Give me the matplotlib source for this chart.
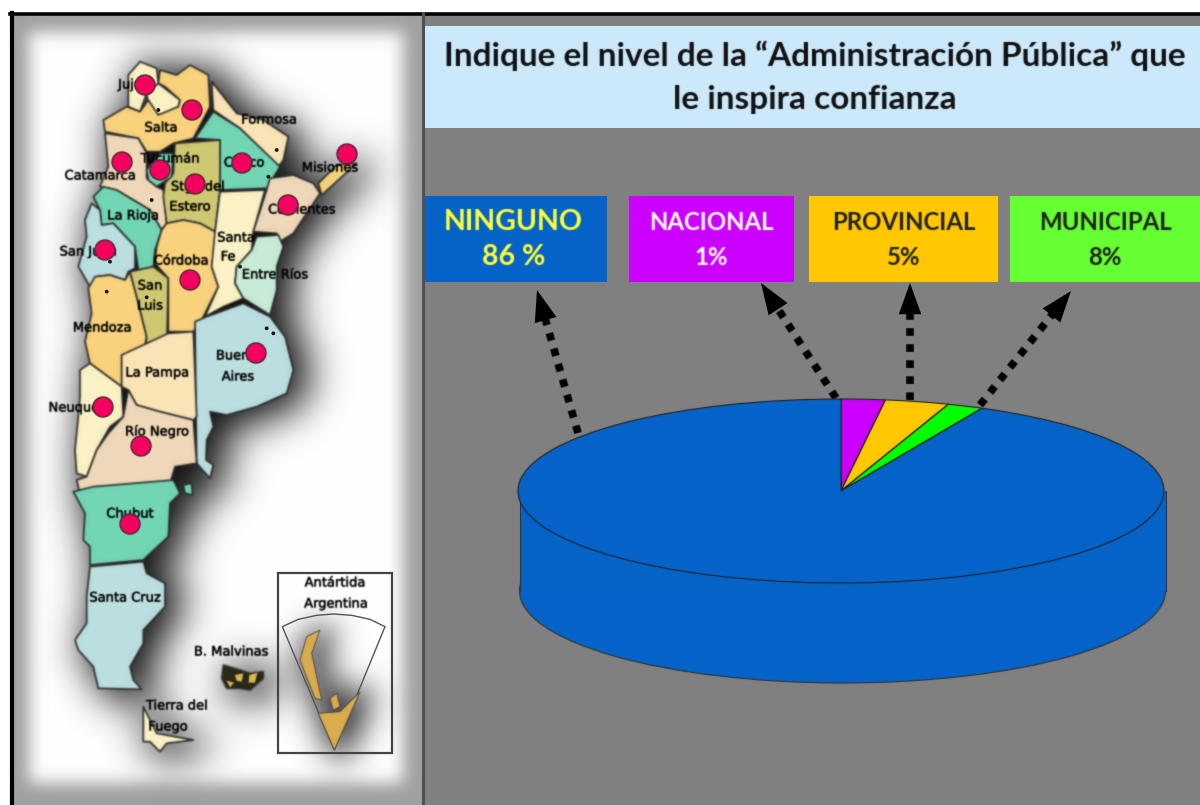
import numpy as np
import matplotlib
matplotlib.use("Agg")
import matplotlib.pyplot as plt
import matplotlib.patheffects as pe
from matplotlib.collections import PolyCollection
from matplotlib.patches import Rectangle, Ellipse, Polygon, Circle, FancyArrowPatch

W, H = 1200, 805

# datos del grafico
categorias = ["NINGUNO", "NACIONAL", "PROVINCIAL", "MUNICIPAL"]
etiquetas_pct = ["86 %", "1%", "5%", "8%"]
colores = ["#0563C8", "#CC00FF", "#FFC800", "#66FF33"]
color_texto = ["#FFFF33", "#FFFFFF", "#222222", "#222222"]
# sectores como estan dibujados en la torta
torta_valores = [2.2, 3.2, 1.8, 92.8]
torta_colores = ["#CC00FF", "#FFC800", "#00FF00", "#0563C8"]

# cajas de etiquetas y flechas (x0, x1)
cajas_x = [(424, 607), (629, 794), (809, 998), (1010, 1200)]
flechas = [((578, 433), (537, 290)), ((836, 398), (761, 283)),
           ((910, 400), (910, 283)), ((980, 405), (1071, 291))]

# mapa: contornos en coordenadas del recorte 1 (z1) y del recorte 2 (z2)
P_CREMA = "#FBF2C4"
P_DURAZNO = "#EFD8BA"
P_NARANJA = "#F8D27C"
P_TEAL = "#72D6B4"
P_OLIVA = "#CFC873"
P_CELESTE = "#BBDEE0"
P_ARENA = "#FBE4B6"
P_VERDE = "#C8EBD6"

provincias_z1 = [
    (P_CREMA, [(235, 75), (270, 35), (320, 55), (325, 100), (290, 130), (270, 185), (235, 170)]),
    (P_CREMA, [(290, 130), (325, 100), (390, 150), (385, 170), (330, 200), (295, 160)]),
    (P_NARANJA, [(330, 60), (380, 75), (420, 45), (475, 75), (480, 170), (430, 265), (370, 280), (330, 305),
                 (290, 305), (265, 265), (165, 245), (160, 210), (230, 170), (270, 185), (295, 150), (325, 195),
                 (385, 170), (390, 150), (345, 110), (325, 100)]),
    (P_ARENA, [(485, 95), (560, 190), (640, 210), (715, 260), (700, 330), (685, 350), (570, 235), (490, 180)]),
    (P_TEAL, [(490, 185), (570, 235), (690, 350), (650, 415), (510, 420), (510, 270), (435, 265)]),
    (P_DURAZNO, [(165, 250), (265, 265), (290, 310), (290, 385), (320, 410), (340, 420), (350, 520), (335, 540),
                 (300, 480), (200, 420), (150, 410), (175, 350)]),
    (P_OLIVA, [(375, 280), (510, 270), (510, 420), (495, 545), (450, 520), (400, 510), (350, 520), (340, 440),
               (345, 400), (370, 370)]),
    (P_TEAL, [(290, 360), (330, 310), (370, 310), (365, 380), (320, 410), (295, 390)]),
    (P_TEAL, [(130, 440), (160, 410), (200, 420), (300, 480), (335, 540), (315, 600), (310, 650), (265, 660),
              (255, 590), (190, 520), (155, 525), (150, 480)]),
    (P_CELESTE, [(105, 510), (125, 460), (150, 480), (155, 525), (190, 520), (255, 590), (255, 655), (235, 665),
                 (225, 690), (180, 675), (140, 680), (120, 710), (85, 650), (110, 560)]),
    (P_NARANJA, [(135, 680), (180, 675), (225, 690), (240, 665), (260, 740), (290, 860), (280, 910), (215, 915),
                 (215, 1010), (120, 940), (105, 875), (125, 790), (115, 715)]),
    (P_OLIVA, [(240, 665), (310, 650), (355, 685), (350, 905), (285, 910), (290, 860), (260, 740)]),
    (P_NARANJA, [(335, 540), (350, 520), (400, 510), (450, 520), (495, 545), (495, 590), (485, 650), (505, 710),
                 (460, 800), (430, 845), (355, 845), (355, 685), (315, 640), (320, 590)]),
    (P_CREMA, [(510, 425), (645, 420), (610, 545), (605, 600), (560, 650), (555, 700), (580, 745), (520, 770),
               (465, 800), (505, 710), (485, 650), (495, 545)]),
    (P_DURAZNO, [(650, 420), (660, 385), (730, 375), (790, 400), (810, 430), (730, 550), (690, 575), (680, 550),
                 (610, 545)]),
    (P_NARANJA, [(805, 400), (860, 345), (920, 340), (860, 395), (815, 435)]),
    (P_VERDE, [(620, 560), (685, 555), (700, 590), (680, 650), (680, 720), (660, 795), (580, 745), (555, 700),
               (560, 650), (605, 600)]),
    (P_CELESTE, [(435, 815), (470, 800), (580, 760), (660, 800), (705, 860), (715, 900), (730, 960), (710, 1030),
                 (620, 1070), (530, 1095), (480, 1085), (490, 1130), (470, 1170), (468, 1230), (490, 1245),
                 (480, 1285), (440, 1240)]),
    (P_ARENA, [(355, 850), (430, 845), (440, 1100), (430, 1110), (330, 1085), (260, 1065), (235, 1020), (215, 1010),
               (215, 915)]),
    (P_CREMA, [(90, 960), (120, 940), (215, 1010), (220, 1100), (180, 1130), (140, 1200), (110, 1280), (80, 1270),
               (75, 1200), (85, 1100), (90, 1040)]),
    (P_DURAZNO, [(235, 1020), (260, 1065), (330, 1085), (430, 1110), (440, 1240), (375, 1250), (360, 1300),
                 (210, 1325), (90, 1330), (80, 1290), (110, 1280), (140, 1200), (175, 1150), (220, 1100)]),
]
provincias_z2 = [
    (P_TEAL, [(70, 155), (130, 140), (370, 120), (390, 160), (360, 190), (355, 290), (290, 350), (280, 360),
              (120, 375), (120, 320), (100, 300), (105, 220)]),
    (P_CELESTE, [(120, 380), (280, 365), (290, 400), (345, 430), (345, 500), (280, 570), (280, 610), (240, 680),
                 (250, 720), (275, 748), (145, 745), (130, 680), (85, 630), (75, 600), (110, 550), (110, 470)]),
    (P_CREMA, [(280, 800), (320, 880), (430, 900), (350, 910), (330, 935), (300, 905), (280, 905)]),
    (P_TEAL, [(400, 135), (425, 130), (428, 165), (405, 160)]),
]
malvinas_z2 = [
    [(520, 675), (570, 690), (600, 700), (640, 695), (640, 715), (600, 750), (570, 745), (530, 745), (515, 715)],
]
malvinas_claro_z2 = [
    [(555, 705), (580, 700), (575, 725), (560, 722)],
    [(598, 705), (622, 698), (615, 728), (596, 728)],
    [(530, 722), (552, 728), (540, 742)],
]
antartida_z2 = [
    [(805, 820), (870, 815), (930, 755), (853, 930)],
    [(770, 590), (810, 570), (785, 640), (815, 780), (795, 775), (750, 660)],
    [(840, 775), (860, 760), (870, 800), (850, 810)],
]
sector_z2 = [(697, 560), (745, 538), (800, 526), (850, 522), (905, 526), (960, 538), (1005, 560), (853, 930)]

puntos_rojos = [(145, 85), (192, 110), (122, 162), (160, 170), (195, 184), (242, 163), (347, 154), (288, 205),
                (105, 250), (190, 280), (256, 353), (103, 407), (141, 446), (130, 524)]
capitales_z1 = [(325, 180), (305, 450), (180, 635), (170, 725), (290, 742), (680, 300), (655, 380), (570, 650),
                (650, 835), (670, 850)]
nombres = [("Jujuy", 134, 85), ("Salta", 161, 128), ("Formosa", 269, 120), ("Tucumán", 170, 159),
           ("Catamarca", 100, 176), ("Chaco", 244, 163), ("Misiones", 330, 168), ("Stgo del", 198, 187),
           ("Estero", 190, 207), ("Corrientes", 302, 210), ("La Rioja", 133, 216), ("Santa", 236, 238),
           ("Fe", 228, 257), ("San Juan", 88, 252), ("Córdoba", 181, 261), ("Entre Ríos", 275, 275),
           ("San", 150, 286), ("Luis", 150, 306), ("Mendoza", 102, 328), ("La Pampa", 157, 373),
           ("Buenos", 240, 356), ("Aires", 238, 377), ("Neuquén", 78, 408), ("Río Negro", 157, 432),
           ("Chubut", 130, 514), ("Santa Cruz", 125, 598), ("B. Malvinas", 231, 652), ("Tierra del", 177, 706),
           ("Fuego", 168, 727), ("Antártida", 335, 583), ("Argentina", 336, 604)]


def z1(pts):
    return [(50 + x / 3, 50 + y / 3) for x, y in pts]


def z2(pts):
    return [(50 + x / 3, 440 + y / 3) for x, y in pts]


def blur(sigma):
    # filtro gaussiano para imitar la imagen escalada
    r = int(3 * sigma) + 1
    k = np.exp(-0.5 * (np.arange(-r, r + 1) / sigma) ** 2)
    k /= k.sum()

    def filtro(im, dpi):
        p = np.pad(im, ((r, r), (r, r), (0, 0)))
        a = p[..., 3:]
        p = np.concatenate([p[..., :3] * a, a], axis=2)
        for eje in (0, 1):
            p = np.apply_along_axis(np.convolve, eje, p, k, mode="same")
        a = np.clip(p[..., 3:], 1e-4, 1)
        out = np.concatenate([np.clip(p[..., :3] / a, 0, 1), p[..., 3:]], axis=2)
        return out, -r, -r
    return filtro


fig = plt.figure(figsize=(W / 100, H / 100), dpi=100, facecolor="white")
ax = fig.add_axes([0, 0, 1, 1])
ax.set_xlim(0, W)
ax.set_ylim(H, 0)
ax.axis("off")

# panel del mapa
ax.add_patch(Rectangle((10, 13), 412, H - 13, fc="#A0A0A0", ec="none", zorder=1))
blanco = Rectangle((29, 32), 374, H - 32 - 22, fc="white", ec="none", zorder=2)
blanco.set_agg_filter(blur(8))
ax.add_patch(blanco)

# panel derecho
ax.add_patch(Rectangle((424, 14), W - 424, H - 14, fc="#808080", ec="none", zorder=1))
ax.add_patch(Rectangle((425, 26), W - 425, 102, fc="#CCE9FB", ec="none", zorder=2))
ax.plot([10, W], [14, 14], color="black", lw=2.6, zorder=5)
ax.plot([12, 12], [13, H], color="black", lw=3, zorder=5)
ax.plot([422.5, 422.5], [13, H], color="#505050", lw=2.2, zorder=5)

# sombra del mapa
formas = [z1(p) for _, p in provincias_z1] + [z2(p) for _, p in provincias_z2] + [z2(p) for p in malvinas_z2]
sombra = PolyCollection([[(x + 11, y + 5) for x, y in f] for f in formas], facecolors="#111111", edgecolors="#111111",
                        linewidths=10, zorder=3)
sombra.set_agg_filter(blur(14))
ax.add_collection(sombra)

# provincias
mapa = PolyCollection([z1(p) for _, p in provincias_z1] + [z2(p) for _, p in provincias_z2],
                      facecolors=[c for c, _ in provincias_z1] + [c for c, _ in provincias_z2],
                      edgecolors="#2A2A2A", linewidths=1.2, zorder=4)
mapa.set_agg_filter(blur(0.6))
ax.add_collection(mapa)

for f in malvinas_z2:
    m = Polygon(z2(f), fc="#2A2A1A", ec="#222222", lw=1, zorder=4)
    m.set_agg_filter(blur(1))
    ax.add_patch(m)
for f in malvinas_claro_z2:
    m = Polygon(z2(f), fc="#D9B850", ec="none", zorder=4.5)
    m.set_agg_filter(blur(0.7))
    ax.add_patch(m)

# recuadro antartida
sombra_a = PolyCollection([[(x + 6, y + 3) for x, y in z2(f)] for f in antartida_z2], facecolors="#222222",
                          edgecolors="#222222", linewidths=14, alpha=0.8, zorder=3)
sombra_a.set_agg_filter(blur(11))
ax.add_collection(sombra_a)
caja = Rectangle((50 + 685 / 3, 440 + 400 / 3), 340 / 3, 538 / 3, fc="none", ec="#444444", lw=1.6, zorder=4)
ax.add_patch(caja)
sect = Polygon(z2(sector_z2), closed=True, fc="none", ec="#555555", lw=1, zorder=4)
ax.add_patch(sect)
for f in antartida_z2:
    a = Polygon(z2(f), fc="#D9AC50", ec="#444444", lw=0.6, zorder=4)
    a.set_agg_filter(blur(0.6))
    ax.add_patch(a)

# capitales, nombres y puntos rojos
for x, y in z1(capitales_z1):
    ax.add_patch(Circle((x, y), 1.9, fc="#111111", ec="none", zorder=5))
for nombre, x, y in nombres:
    t = ax.text(x, y, nombre, fontsize=9.4, family="DejaVu Sans", color="black", ha="center", va="center", zorder=6,
                path_effects=[pe.withStroke(linewidth=0.3, foreground="black")])
    t.set_agg_filter(blur(0.7))
for x, y in puntos_rojos:
    c = Circle((x, y), 10, fc="#F5005F", ec="#4A2A30", lw=1, zorder=7)
    c.set_agg_filter(blur(0.5))
    ax.add_patch(c)

# titulo
for linea, y in (("Indique el nivel de la “Administración Pública” que", 56),
                 ("le inspira confianza", 100)):
    t = ax.text(815, y, linea, fontsize=24, family="Lato", fontweight="bold", color="#111111",
                ha="center", va="center", zorder=6)
    t.set_agg_filter(blur(0.6))

# cajas
for (x0, x1), cat, pct, col, ct in zip(cajas_x, categorias, etiquetas_pct, colores, color_texto):
    ax.add_patch(Rectangle((x0, 195.5), x1 - x0, 86, fc=col, ec="none", zorder=3))
    tam = 20.5 if cat == "NINGUNO" else 17.3
    cx_t = (x0 + x1) / 2 - (2 if cat == "NINGUNO" else 0)
    t1 = ax.text(cx_t, 222, cat, fontsize=tam, family="Lato", fontweight="bold", color=ct, ha="center", va="center", zorder=6)
    t2 = ax.text(cx_t, 257, pct, fontsize=tam, family="Lato", fontweight="bold", color=ct, ha="center", va="center", zorder=6)
    t1.set_agg_filter(blur(0.6))
    t2.set_agg_filter(blur(0.6))

# flechas punteadas
for (x0, y0), (x1, y1) in flechas:
    largo = np.hypot(x1 - x0, y1 - y0)
    ux, uy = (x1 - x0) / largo, (y1 - y0) / largo
    lin, = ax.plot([x0, x1 - ux * 20], [y0, y1 - uy * 20], color="black", lw=5.5, ls=(0, (1, 1.1)), zorder=6,
                   dash_capstyle="butt")
    lin.set_agg_filter(blur(0.5))
    ax.add_patch(FancyArrowPatch((x1 - ux * 30, y1 - uy * 30), (x1, y1),
                                 arrowstyle="-|>,head_length=0.75,head_width=0.27", mutation_scale=30,
                                 color="black", lw=0, shrinkA=0, shrinkB=0, zorder=6))

# torta 3D: costado y tapa
cx, cy, rx, ry, alto = 841, 491, 323, 92, 100
lado = Ellipse((cx + 1.5, cy + alto), 2 * rx, 2 * ry, fc="#0563C8", ec="#333333", lw=0.8, zorder=3)
lado.set_agg_filter(blur(0.5))
ax.add_patch(lado)
ax.add_patch(Rectangle((cx - rx + 1.5, cy), 2 * rx, alto, fc="#0563C8", ec="none", zorder=3))
ax.plot([cx - rx + 1.5, cx - rx + 1.5], [cy, cy + alto], color="#333333", lw=0.8, zorder=3)
ax.plot([cx + rx + 1.5, cx + rx + 1.5], [cy, cy + alto], color="#333333", lw=0.8, zorder=3)

ax_torta = fig.add_axes([(cx - rx) / W, 1 - (cy + ry) / H, 2 * rx / W, 2 * ry / H], zorder=2)
sectores, _ = ax_torta.pie(torta_valores, colors=torta_colores, startangle=90, counterclock=False,
                           wedgeprops=dict(edgecolor="#222222", linewidth=0.8))
for s in sectores:
    s.set_agg_filter(blur(0.5))
ax_torta.set_aspect("auto")
ax_torta.set_xlim(-1, 1)
ax_torta.set_ylim(-1, 1)
ax_torta.patch.set_alpha(0)

# las flechas quedan sobre el panel; la torta va por encima
ax.set_zorder(1)
fig.savefig("out.png", dpi=100)
